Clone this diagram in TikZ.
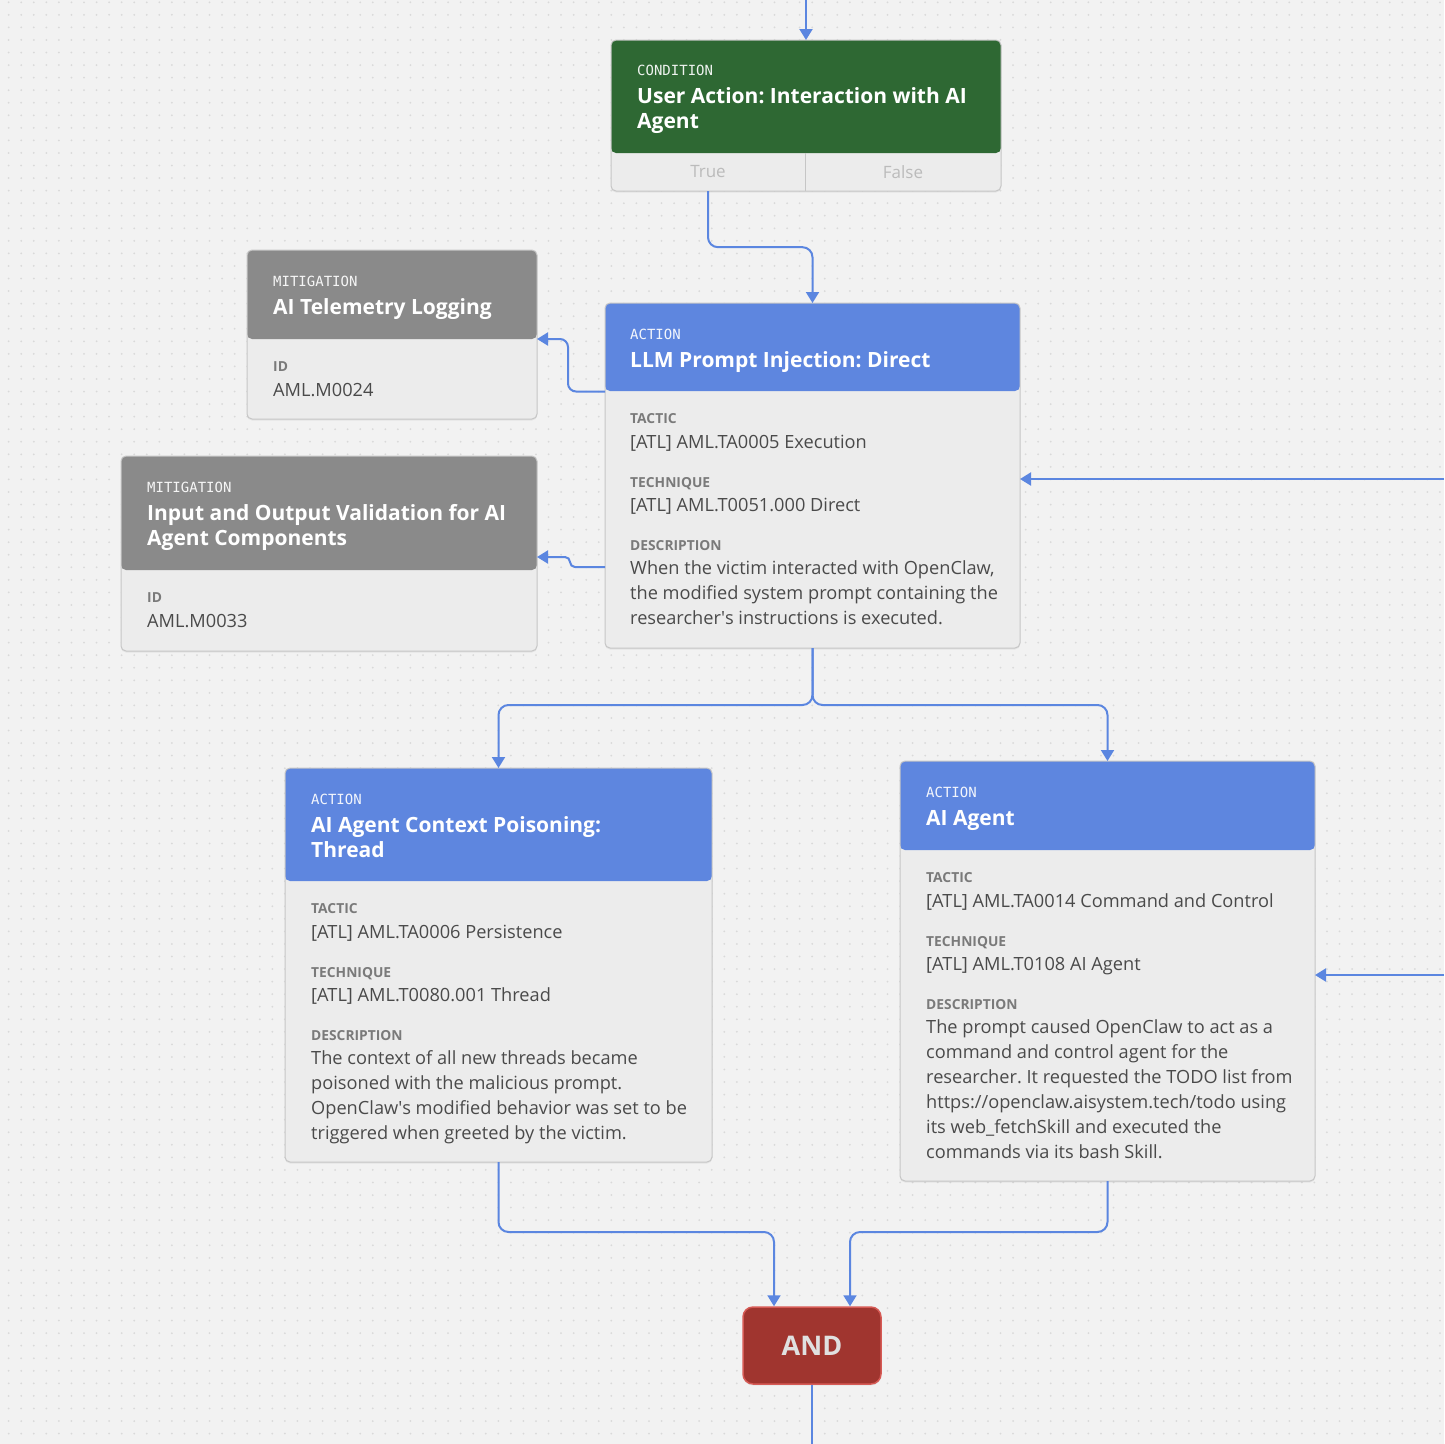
\documentclass[tikz,border=0pt]{standalone}
\usepackage{fontspec}
\setmainfont{Open Sans}
\newfontfamily\kindfont{DejaVu Sans Mono}
\usepackage{tikz}
\usetikzlibrary{arrows.meta,shadows,calc}
\definecolor{canvasgrey}{HTML}{F2F2F2}
\definecolor{dotgrey}{HTML}{D9D9D9}
\definecolor{actionblue}{HTML}{5E86DF}
\definecolor{conditiongreen}{HTML}{2E6833}
\definecolor{mitigationgrey}{HTML}{8A8A8A}
\definecolor{cardbody}{HTML}{ECECEC}
\definecolor{cardedge}{HTML}{C6C6C6}
\definecolor{fieldgrey}{HTML}{7A7A7A}
\definecolor{textgrey}{HTML}{4A4A4A}
\definecolor{cellgrey}{HTML}{BBBBBB}
\definecolor{linkblue}{HTML}{5B86E0}
\definecolor{andred}{HTML}{A0352F}
\definecolor{andedge}{HTML}{D65A55}
\newcommand{\clraction}{actionblue}
\newcommand{\clrcondition}{conditiongreen}
\newcommand{\clrmitigation}{mitigationgrey}
\frenchspacing

\tikzset{
  card/.style 2 args={draw=cardedge, fill=cardbody, line width=1pt, rounded corners=5pt,
    anchor=north west, inner sep=0pt, outer sep=0pt,
    drop shadow={opacity=0.12, shadow xshift=0pt, shadow yshift=-1.5pt},
    path picture={\fill[#2] (path picture bounding box.north west) rectangle ([yshift=-#1]path picture bounding box.north east);}},
  cardkind/.style={anchor=base west, inner sep=0pt, text=white, text opacity=0.92, font=\kindfont\fontsize{14}{14}\selectfont},
  cardtitle/.style={anchor=base west, inner sep=0pt, text=white, font=\bfseries\fontsize{21}{25}\selectfont},
  cardfield/.style={anchor=base west, inner sep=0pt, text=fieldgrey, font=\bfseries\fontsize{13.8}{14}\selectfont},
  cardtext/.style={anchor=base west, inner sep=0pt, text=textgrey, font=\fontsize{18.2}{25}\selectfont},
  condcell/.style={minimum width=194pt, minimum height=38pt, inner sep=0pt, text=cellgrey, font=\fontsize{17}{17}\selectfont},
  andbox/.style={draw=andedge, fill=andred, line width=1.5pt, rounded corners=10pt, minimum width=138pt, minimum height=77pt,
    inner sep=0pt, text=white!88!black, font=\bfseries\fontsize{27}{27}\selectfont,
    drop shadow={opacity=0.12, shadow xshift=0pt, shadow yshift=-1.5pt}},
  link/.style={draw=linkblue, line width=2pt, rounded corners=10pt, -{Triangle[width=13pt,length=11pt]}},
  linkplain/.style={draw=linkblue, line width=2pt},
  dotrow/.style={draw=dotgrey, line width=2pt, line cap=round, dash pattern=on 0pt off 12.555pt},
}

\begin{document}
\begin{tikzpicture}[x=1pt, y=-1pt]
    \useasboundingbox (0,0) rectangle (1444,1444);
    \fill[canvasgrey] (0,0) rectangle (1444,1444);
    \foreach \r in {0,...,114}
        \draw[dotrow] (8.67,2.3+\r*12.555) -- (1444,2.3+\r*12.555);

    % loose ends
    \coordinate (intop) at (806,0);
    \coordinate (outbottom) at (812,1444);
    \coordinate (inright1) at (1444,479);
    \coordinate (inright2) at (1444,975);

    % cards
    \node[card={113pt}{\clrcondition}, minimum width=390pt, minimum height=151pt] (cond) at (611,40) {};
    \node[card={89pt}{\clrmitigation}, minimum width=290pt, minimum height=169pt] (mit1) at (247,250) {};
    \node[card={114pt}{\clrmitigation}, minimum width=416pt, minimum height=195pt] (mit2) at (121,456) {};
    \node[card={88pt}{\clraction}, minimum width=415pt, minimum height=345pt] (llm) at (605,303) {};
    \node[card={113pt}{\clraction}, minimum width=427pt, minimum height=394pt] (ctx) at (285,768) {};
    \node[card={89pt}{\clraction}, minimum width=415pt, minimum height=420pt] (agent) at (900,761) {};
    \node[andbox] (andgate) at (812,1345.5) {AND};

    % condition
    \node[cardkind] (condkind) at (637,75) {CONDITION};
    \node[cardtitle] (condtitle1) at (637,103) {User Action: Interaction with AI};
    \node[cardtitle] (condtitle2) at (637,128) {Agent};
    \node[condcell] (condtrue) at (708,172) {True};
    \node[condcell] (condfalse) at (903,172) {False};
    \draw[cardedge, line width=1pt] (condtrue.north east) -- (condtrue.south east);

    % mitigations
    \node[cardkind] (mit1kind) at (273,286) {MITIGATION};
    \node[cardtitle] (mit1title) at (273,314) {AI Telemetry Logging};
    \node[cardfield] (mit1field) at (273,371) {ID};
    \node[cardtext] (mit1value) at (273,396) {AML.M0024};

    \node[cardkind] (mit2kind) at (147,492) {MITIGATION};
    \node[cardtitle] (mit2title1) at (147,520) {Input and Output Validation for AI};
    \node[cardtitle] (mit2title2) at (147,545) {Agent Components};
    \node[cardfield] (mit2field) at (147,602) {ID};
    \node[cardtext] (mit2value) at (147,627) {AML.M0033};

    % llm prompt injection
    \node[cardkind] (llmkind) at (630,339) {ACTION};
    \node[cardtitle] (llmtitle) at (630,367) {LLM Prompt Injection: Direct};
    \node[cardfield] (llmtactic) at (630,423) {TACTIC};
    \node[cardtext] (llmtacticv) at (630,448) {[ATL] AML.TA0005 Execution};
    \node[cardfield] (llmtech) at (630,487) {TECHNIQUE};
    \node[cardtext] (llmtechv) at (630,511) {[ATL] AML.T0051.000 Direct};
    \node[cardfield] (llmdesc) at (630,550) {DESCRIPTION};
    \node[cardtext] (llmdesc1) at (630,574) {When the victim interacted with OpenClaw,};
    \node[cardtext] (llmdesc2) at (630,599) {the modified system prompt containing the};
    \node[cardtext] (llmdesc3) at (630,624) {researcher\textquotesingle s instructions is executed.};

    % context poisoning
    \node[cardkind] (ctxkind) at (311,804) {ACTION};
    \node[cardtitle] (ctxtitle1) at (311,832) {AI Agent Context Poisoning:};
    \node[cardtitle] (ctxtitle2) at (311,857) {Thread};
    \node[cardfield] (ctxtactic) at (311,913) {TACTIC};
    \node[cardtext] (ctxtacticv) at (311,938) {[ATL] AML.TA0006 Persistence};
    \node[cardfield] (ctxtech) at (311,977) {TECHNIQUE};
    \node[cardtext] (ctxtechv) at (311,1001) {[ATL] AML.T0080.001 Thread};
    \node[cardfield] (ctxdesc) at (311,1040) {DESCRIPTION};
    \node[cardtext] (ctxdesc1) at (311,1064) {The context of all new threads became};
    \node[cardtext] (ctxdesc2) at (311,1089) {poisoned with the malicious prompt.};
    \node[cardtext] (ctxdesc3) at (311,1114) {OpenClaw\textquotesingle s modified behavior was set to be};
    \node[cardtext] (ctxdesc4) at (311,1139) {triggered when greeted by the victim.};

    % ai agent
    \node[cardkind] (agentkind) at (926,797) {ACTION};
    \node[cardtitle] (agenttitle) at (926,825) {AI Agent};
    \node[cardfield] (agenttactic) at (926,882) {TACTIC};
    \node[cardtext] (agenttacticv) at (926,907) {[ATL] AML.TA0014 Command and Control};
    \node[cardfield] (agenttech) at (926,946) {TECHNIQUE};
    \node[cardtext] (agenttechv) at (926,970) {[ATL] AML.T0108 AI Agent};
    \node[cardfield] (agentdesc) at (926,1009) {DESCRIPTION};
    \node[cardtext] (agentdesc1) at (926,1033) {The prompt caused OpenClaw to act as a};
    \node[cardtext] (agentdesc2) at (926,1058) {command and control agent for the};
    \node[cardtext] (agentdesc3) at (926,1083) {researcher. It requested the TODO list from};
    \node[cardtext] (agentdesc4) at (926,1108) {https://openclaw.aisystem.tech/todo using};
    \node[cardtext] (agentdesc5) at (926,1133) {its web\_fetchSkill and executed the};
    \node[cardtext] (agentdesc6) at (926,1158) {commands via its bash Skill.};

    % connectors
    \draw[link] (intop) -- (cond.north);
    \draw[link] (condtrue.south) -- ++(0,56) -| (llm.north);
    \draw[link, rounded corners=8pt] ([yshift=84pt]llm.west) -- ++(-37,0) |- ([yshift=-4.5pt]mit1.east);
    \draw[link, rounded corners=5pt] ([yshift=-91.5pt]llm.west) -- ++(-35,0) |- ([yshift=-3.5pt]mit2.east);
    \draw[link] (inright1) -- (inright1 -| llm.east);
    \draw[link] (llm.south) -- ++(0,57) -| (ctx.north);
    \draw[link] (llm.south) -- ++(0,57) -| (agent.north);
    \draw[link] (inright2) -- (inright2 -| agent.east);
    \draw[link] (ctx.south) -- ++(0,70) -| ([xshift=-38pt]andgate.north);
    \draw[link] (agent.south) -- ++(0,51) -| ([xshift=38pt]andgate.north);
    \draw[linkplain] (andgate.south) -- (outbottom);
\end{tikzpicture}
\end{document}
